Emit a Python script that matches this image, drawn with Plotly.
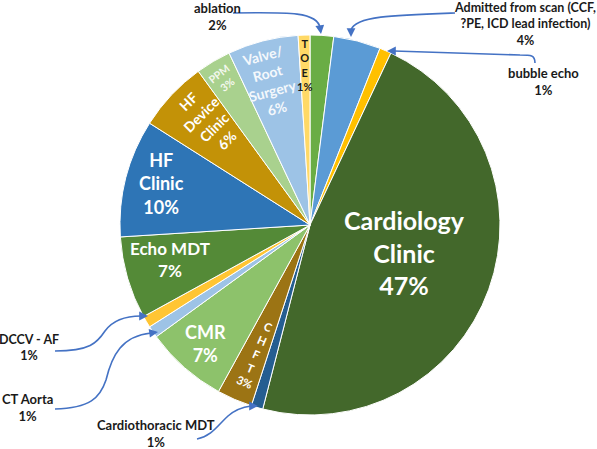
import math
import plotly.graph_objects as go

# ---------------- data ----------------
labels = ["ablation", "Admitted from scan (CCF, ?PE, ICD lead infection)", "bubble echo",
          "Cardiology Clinic", "Cardiothoracic MDT", "CHFT", "CMR", "CT Aorta", "DCCV - AF",
          "Echo MDT", "HF Clinic", "HF Device Clinic", "PPM", "Valve/Root Surgery", "TOE"]
values = [2, 4, 1, 47, 1, 3, 7, 1, 1, 7, 10, 6, 3, 6, 1]
display_text = ["ablation", "Admitted from scan (CCF,<br>?PE, ICD lead infection)", "bubble echo",
                "Cardiology<br>Clinic", "Cardiothoracic MDT", "C<br>H<br>F<br>T", "CMR",
                "CT Aorta", "DCCV - AF", "Echo MDT", "HF<br>Clinic", "HF<br>Device<br>Clinic",
                "PPM", "Valve/<br>Root<br>Surgery", "T<br>O<br>E"]

# ---------------- style ----------------
colors = ["#6AAD45", "#5B9BD5", "#FFC000", "#43682B", "#255E91", "#9C7414", "#8DC26B",
          "#9DC3E6", "#FFC533", "#548A37", "#2E75B6", "#C39207", "#A9D18E", "#9DC3E6", "#FFD966"]

W, H = 597, 449
CX, CY, R = 310, 225, 190
FONT = "Lato"
ARROW = "#4472C4"

# inside labels: index -> (radius fraction, angle tweak deg, text angle, font size, color)
inside = {
    3: (0.52, -3.8, 0, 25, "white"),
    5: (0.74, -0.9, 23, 11.5, "white"),
    6: (0.83, 0.0, 0, 18, "white"),
    9: (0.76, 2.5, 0, 17, "white"),
    10: (0.81, 1.1, 0, 18, "white"),
    11: (0.77, 2.3, -45, 14, "white"),
    12: (0.89, 0.0, -38, 10.5, "#F4F8EF"),
    13: (0.78, -1.2, -15, 14, "#F4F8FC"),
    14: (0.84, 0.0, 0, 11, "#1a1a1a"),
}
# outside labels: index -> (x px, y px, font size, xanchor)
outside = {
    0: (217, 16, 13, "center"),
    1: (525, 24, 12.5, "center"),
    2: (543, 81, 13, "center"),
    8: (29, 347, 12.5, "center"),
    7: (27, 407, 13, "center"),
    4: (156, 433, 13, "center"),
}
# connector paths and arrow tips (pixel coords)
connectors = [
    ("M 233,13 C 290,12 318,12 320,28", (320, 27), (321, 34)),
    ("M 455,13 C 395,15 355,16 351,30", (351, 29), (351, 37)),
    ("M 535,63 C 535,55 531,55 520,55 L 394,51", (394, 51), (387, 51)),
    ("M 55,351 C 90,351 97,343 105,331 C 113,320 125,316 141,316", (141, 316), (148, 316)),
    ("M 55,409 C 90,408 100,398 106,380 C 112,355 122,336 151,333", (151, 333), (158, 332)),
    ("M 197,439 C 212,436 218,425 228,416 C 236,409 243,407 251,406", (251, 406), (258, 406)),
]

fig = go.Figure()
fig.add_trace(go.Pie(
    labels=labels, values=values, sort=False, direction="clockwise", rotation=0,
    marker=dict(colors=colors, line=dict(color="white", width=1)),
    textinfo="none", hoverinfo="label+percent", showlegend=False,
    domain=dict(x=[(CX - R) / W, (CX + R) / W], y=[1 - (CY + R) / H, 1 - (CY - R) / H]),
))

# invisible pixel-coordinate axes for annotations / connectors
fig.add_trace(go.Scatter(x=[0, W], y=[0, H], mode="markers", marker=dict(opacity=0),
                         hoverinfo="skip", showlegend=False))

total = sum(values)
cum = 0
mids = []
for v in values:
    mids.append((cum + v / 2) / total * 360)
    cum += v

def bold(s):
    return "<br>".join(f"<b>{p}</b>" for p in s.split("<br>"))

annotations = []
for i, (rf, tw, ta, fs, col) in inside.items():
    a = math.radians(mids[i] + tw)
    x = CX + rf * R * math.sin(a)
    y = CY - rf * R * math.cos(a)
    annotations.append(dict(
        x=x, y=y, xref="x", yref="y", showarrow=False, textangle=ta,
        text=bold(f"{display_text[i]}<br>{values[i]}%"), align="center",
        font=dict(family=FONT, size=fs, color=col),
    ))
for i, (x, y, fs, xa) in outside.items():
    annotations.append(dict(
        x=x, y=y, xref="x", yref="y", showarrow=False, xanchor=xa,
        text=bold(f"{display_text[i]}<br>{values[i]}%"), align="center",
        font=dict(family=FONT, size=fs, color="#1a1a1a"),
    ))

shapes = []
for path, tail, tip in connectors:
    shapes.append(dict(type="path", path=path, xref="x", yref="y",
                       line=dict(color=ARROW, width=1.6)))
    annotations.append(dict(
        x=tip[0], y=tip[1], ax=tail[0], ay=tail[1], xref="x", yref="y",
        axref="x", ayref="y", text="", showarrow=True, arrowhead=2,
        arrowsize=1.1, arrowwidth=1.6, arrowcolor=ARROW, standoff=0,
    ))

fig.update_layout(
    width=W, height=H, margin=dict(l=0, r=0, t=0, b=0),
    paper_bgcolor="white", plot_bgcolor="rgba(0,0,0,0)",
    xaxis=dict(range=[0, W], visible=False, fixedrange=True),
    yaxis=dict(range=[H, 0], visible=False, fixedrange=True),
    annotations=annotations, shapes=shapes,
)

fig.write_html("out.html")
